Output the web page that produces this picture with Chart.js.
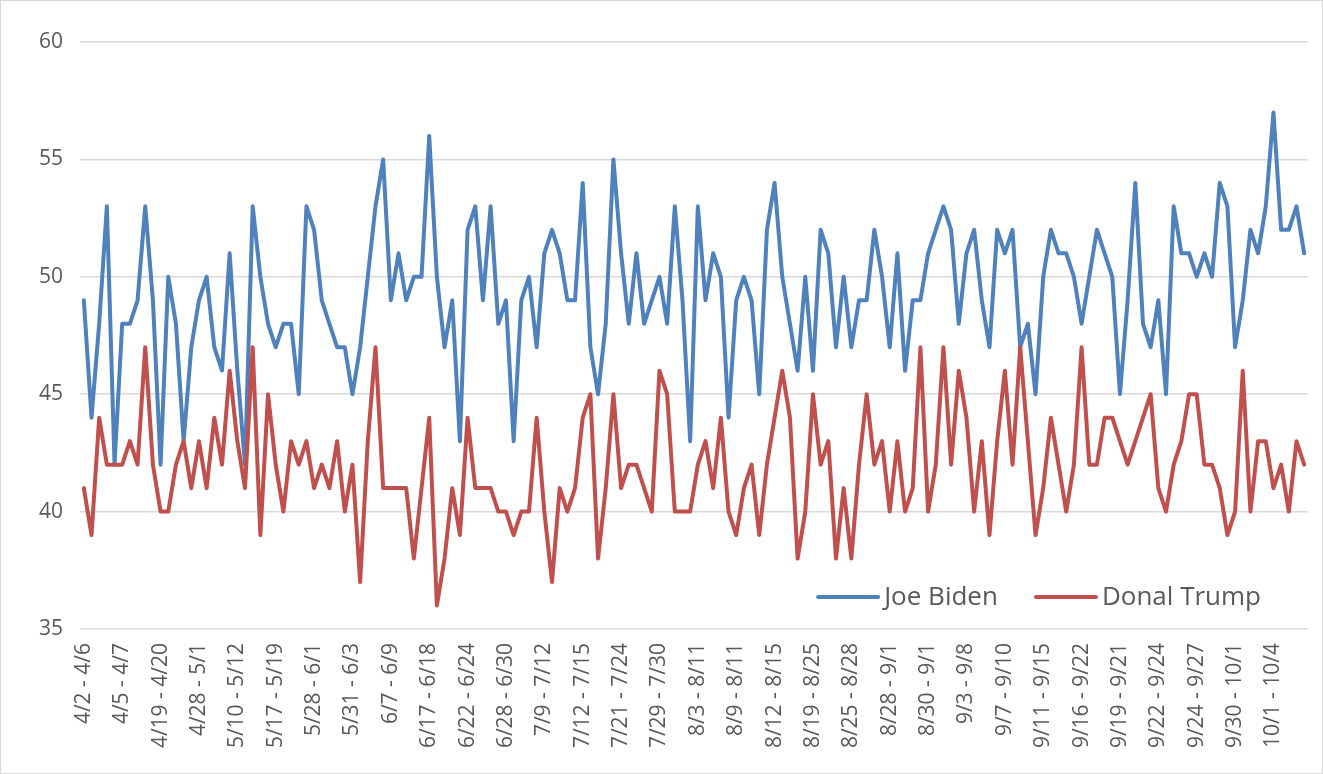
<!DOCTYPE html>
<html>
<head>
<meta charset="utf-8">
<script src="https://cdn.jsdelivr.net/npm/chart.js@4.4.1/dist/chart.umd.min.js"></script>
<style>
  html, body { margin: 0; padding: 0; background: #ffffff; }
  #frame { width: 1323px; height: 774px; box-sizing: border-box; border: 1px solid #d9d9d9; background: #fff; }
  #c { display: block; }
</style>
</head>
<body>
<div id="frame"><canvas id="c" width="1321" height="772"></canvas></div>
<script>
// ---- data ----
const seriesNames = ['Joe Biden', 'Donal Trump'];

const tickLabels = [
  '4/2 - 4/6', '4/5 - 4/7', '4/19 - 4/20', '4/28 - 5/1', '5/10 - 5/12', '5/17 - 5/19',
  '5/28 - 6/1', '5/31 - 6/3', '6/7 - 6/9', '6/17 - 6/18', '6/22 - 6/24', '6/28 - 6/30',
  '7/9 - 7/12', '7/12 - 7/15', '7/21 - 7/24', '7/29 - 7/30', '8/3 - 8/11', '8/9 - 8/11',
  '8/12 - 8/15', '8/19 - 8/25', '8/25 - 8/28', '8/28 - 9/1', '8/30 - 9/1', '9/3 - 9/8',
  '9/7 - 9/10', '9/11 - 9/15', '9/16 - 9/22', '9/19 - 9/21', '9/22 - 9/24', '9/24 - 9/27',
  '9/30 - 10/1', '10/1 - 10/4'
];

const bidenValues = [
  49,44,48,53,42,48,48,49,53,49,42,50,48,43,47,49,
  50,47,46,51,46,42,53,50,48,47,48,48,45,53,52,49,
  48,47,47,45,47,50,53,55,49,51,49,50,50,56,50,47,
  49,43,52,53,49,53,48,49,43,49,50,47,51,52,51,49,
  49,54,47,45,48,55,51,48,51,48,49,50,48,53,49,43,
  53,49,51,50,44,49,50,49,45,52,54,50,48,46,50,46,
  52,51,47,50,47,49,49,52,50,47,51,46,49,49,51,52,
  53,52,48,51,52,49,47,52,51,52,47,48,45,50,52,51,
  51,50,48,50,52,51,50,45,49,54,48,47,49,45,53,51,
  51,50,51,50,54,53,47,49,52,51,53,57,52,52,53,51
];

const trumpValues = [
  41,39,44,42,42,42,43,42,47,42,40,40,42,43,41,43,
  41,44,42,46,43,41,47,39,45,42,40,43,42,43,41,42,
  41,43,40,42,37,43,47,41,41,41,41,38,41,44,36,38,
  41,39,44,41,41,41,40,40,39,40,40,44,40,37,41,40,
  41,44,45,38,41,45,41,42,42,41,40,46,45,40,40,40,
  42,43,41,44,40,39,41,42,39,42,44,46,44,38,40,45,
  42,43,38,41,38,42,45,42,43,40,43,40,41,47,40,42,
  47,42,46,44,40,43,39,43,46,42,47,43,39,41,44,42,
  40,42,47,42,42,44,44,43,42,43,44,45,41,40,42,43,
  45,45,42,42,41,39,40,46,40,43,43,41,42,40,43,42
];

const labelEvery = 5;
const categories = bidenValues.map((_, i) => (i % labelEvery === 0 ? tickLabels[i / labelEvery] : ''));

// ---- styling ----
const FONT = "'Open Sans', 'Noto Sans', sans-serif";
const TEXT = '#595959';
const GRID = '#d9d9d9';
const BLUE = '#4f81bd';
const RED = '#c0504d';

const insideLegend = {
  id: 'insideLegend',
  afterDraw(chart) {
    const ctx = chart.ctx;
    const area = chart.chartArea;
    const items = chart.data.datasets.map(d => ({ text: d.label, color: d.borderColor }));
    ctx.save();
    ctx.font = '26px ' + FONT;
    ctx.textBaseline = 'middle';
    const lineLen = 60, gapLT = 6, gapItems = 38;
    const widths = items.map(it => ctx.measureText(it.text).width);
    let total = 0;
    items.forEach((it, k) => { total += lineLen + gapLT + widths[k] + (k < items.length - 1 ? gapItems : 0); });
    let x = area.right - 47 - total;
    const y = area.bottom - 32;
    items.forEach((it, k) => {
      ctx.strokeStyle = it.color;
      ctx.lineWidth = 4;
      ctx.lineCap = 'round';
      ctx.beginPath();
      ctx.moveTo(x, y);
      ctx.lineTo(x + lineLen, y);
      ctx.stroke();
      x += lineLen + gapLT;
      ctx.fillStyle = TEXT;
      ctx.textAlign = 'left';
      ctx.fillText(it.text, x, y + 1);
      x += widths[k] + gapItems;
    });
    ctx.restore();
  }
};

new Chart(document.getElementById('c'), {
  type: 'line',
  data: {
    labels: categories,
    datasets: [
      { label: seriesNames[0], data: bidenValues, borderColor: BLUE, backgroundColor: BLUE, order: 1 },
      { label: seriesNames[1], data: trumpValues, borderColor: RED, backgroundColor: RED, order: 0 }
    ]
  },
  options: {
    responsive: false,
    animation: false,
    devicePixelRatio: 1,
    layout: { padding: { top: 41, right: 14, left: 0, bottom: 0 } },
    elements: {
      point: { radius: 0, hoverRadius: 0 },
      line: { borderWidth: 4, tension: 0, borderJoinStyle: 'round', borderCapStyle: 'round' }
    },
    plugins: {
      legend: { display: false },
      tooltip: { enabled: false }
    },
    scales: {
      x: {
        offset: true,
        grid: { display: false, drawTicks: false },
        border: { display: false },
        ticks: {
          autoSkip: false,
          minRotation: 90,
          maxRotation: 90,
          padding: 14,
          color: TEXT,
          font: { family: FONT, size: 21 }
        },
        afterFit(scale) {
          scale.height = 772 - 628;
          scale.paddingLeft = 0;
          scale.paddingRight = 0;
        }
      },
      y: {
        min: 35,
        max: 60,
        grid: { color: GRID, lineWidth: 1.5, drawTicks: false },
        border: { display: false },
        ticks: {
          stepSize: 5,
          padding: 17,
          color: TEXT,
          font: { family: FONT, size: 21 }
        },
        afterFit(scale) { scale.width = 79; }
      }
    }
  },
  plugins: [insideLegend]
});
</script>
</body>
</html>
